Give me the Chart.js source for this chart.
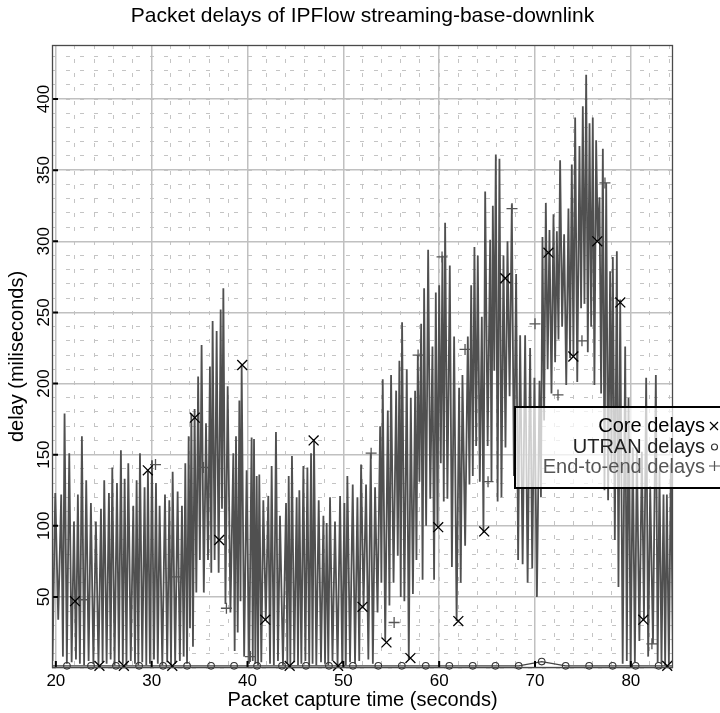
<!DOCTYPE html>
<html>
<head>
<meta charset="utf-8">
<script src="https://cdn.jsdelivr.net/npm/chart.js@4.4.0/dist/chart.umd.min.js"></script>
<style>
  html, body { margin: 0; padding: 0; background: #fff; }
  #chart { display: block; }
</style>
</head>
<body>
<canvas id="chart" width="720" height="713"></canvas>
<script>
// end-to-end delays (seconds / ms)
const e2eTime = [
  19.65, 19.94, 20.25, 20.56, 20.74, 20.91, 21.15, 21.40, 21.65, 21.89,
  22.10, 22.30, 22.51, 22.72, 22.95, 23.17, 23.42, 23.66, 23.92, 24.18,
  24.45, 24.71, 24.88, 25.05, 25.30, 25.54, 25.72, 25.89, 26.13, 26.38,
  26.58, 26.79, 26.99, 27.18, 27.37, 27.56, 27.82, 28.08, 28.26, 28.43,
  28.61, 28.78, 29.02, 29.26, 29.44, 29.61, 29.82, 30.03, 30.24, 30.45,
  30.64, 30.83, 31.11, 31.39, 31.62, 31.84, 32.02, 32.19, 32.45, 32.71,
  32.94, 33.16, 33.34, 33.51, 33.69, 33.86, 34.00, 34.14, 34.31, 34.48,
  34.66, 34.85, 35.03, 35.21, 35.44, 35.67, 35.88, 36.08, 36.22, 36.36,
  36.57, 36.78, 36.99, 37.20, 37.34, 37.48, 37.70, 37.93, 38.22, 38.52,
  38.66, 38.80, 38.98, 39.15, 39.27, 39.39, 39.65, 39.91, 40.17, 40.43,
  40.55, 40.68, 40.82, 40.96, 41.10, 41.23, 41.44, 41.65, 41.91, 42.17,
  42.35, 42.52, 42.75, 42.97, 43.18, 43.39, 43.70, 44.02, 44.16, 44.30,
  44.47, 44.64, 44.88, 45.13, 45.27, 45.41, 45.62, 45.83, 46.04, 46.25,
  46.44, 46.63, 46.79, 46.94, 47.18, 47.43, 47.67, 47.92, 48.09, 48.26,
  48.43, 48.61, 48.87, 49.13, 49.40, 49.66, 49.88, 50.11, 50.26, 50.42,
  50.70, 50.98, 51.22, 51.47, 51.66, 51.85, 52.11, 52.37, 52.61, 52.86,
  53.08, 53.31, 53.57, 53.84, 53.97, 54.11, 54.37, 54.64, 54.81, 54.98,
  55.24, 55.51, 55.68, 55.85, 55.99, 56.13, 56.37, 56.62, 56.83, 57.04,
  57.26, 57.49, 57.63, 57.77, 57.94, 58.12, 58.27, 58.43, 58.64, 58.85,
  59.07, 59.30, 59.47, 59.65, 59.82, 60.00, 60.17, 60.34, 60.48, 60.62,
  60.86, 61.11, 61.33, 61.56, 61.82, 62.08, 62.25, 62.43, 62.71, 62.99,
  63.16, 63.34, 63.51, 63.68, 63.86, 64.03, 64.24, 64.45, 64.62, 64.80,
  65.06, 65.32, 65.46, 65.60, 65.75, 65.91, 66.10, 66.29, 66.50, 66.71,
  66.92, 67.13, 67.35, 67.58, 67.80, 68.03, 68.24, 68.45, 68.71, 68.97,
  69.23, 69.49, 69.71, 69.94, 70.20, 70.47, 70.62, 70.78, 70.95, 71.13,
  71.32, 71.51, 71.72, 71.93, 72.10, 72.28, 72.45, 72.62, 72.83, 73.04,
  73.26, 73.49, 73.66, 73.84, 74.01, 74.19, 74.41, 74.64, 74.81, 74.99,
  75.16, 75.34, 75.51, 75.69, 75.86, 76.03, 76.20, 76.38, 76.55, 76.73,
  76.90, 77.08, 77.25, 77.43, 77.63, 77.84, 77.98, 78.12, 78.33, 78.54,
  78.71, 78.89, 79.15, 79.41, 79.58, 79.76, 79.98, 80.21, 80.42, 80.63,
  80.89, 81.15, 81.37, 81.60, 81.81, 82.02, 82.31, 82.61, 82.80, 82.99,
  83.20, 83.41, 83.58, 83.76, 83.97, 84.18, 84.40
];
const e2eDelay = [
  5, 123, 34, 122, 8, 179, 3, 151, 4, 103,
  6, 122, 3, 163, 2, 132, 5, 116, 3, 103,
  2, 112, 4, 132, 3, 123, 6, 141, 2, 130,
  4, 153, 3, 133, 2, 144, 5, 114, 3, 132,
  2, 151, 4, 127, 2, 139, 3, 146, 6, 130,
  3, 114, 2, 122, 4, 118, 2, 138, 3, 124,
  5, 114, 8, 144, 3, 163, 28, 179, 15, 182,
  53, 205, 76, 227, 53, 172, 76, 212, 67, 244,
  76, 237, 67, 252, 112, 267, 45, 198, 39, 151,
  12, 163, 25, 188, 47, 213, 8, 139, 3, 162,
  5, 161, 3, 135, 2, 136, 4, 118, 34, 121,
  3, 142, 2, 166, 5, 107, 2, 116, 3, 135,
  2, 149, 4, 120, 2, 125, 3, 142, 5, 141,
  2, 151, 3, 161, 2, 118, 4, 107, 3, 102,
  2, 120, 5, 103, 2, 121, 3, 116, 2, 135,
  4, 129, 3, 120, 5, 143, 43, 129, 6, 151,
  3, 127, 39, 170, 60, 203, 19, 181, 44, 206,
  60, 195, 79, 216, 50, 243, 47, 210, 6, 190,
  52, 195, 76, 220, 131, 242, 62, 267, 100, 294,
  119, 226, 62, 264, 100, 269, 144, 290, 117, 313,
  119, 283, 71, 233, 33, 197, 60, 206, 86, 233,
  129, 269, 135, 296, 156, 290, 131, 247, 95, 335,
  156, 301, 131, 325, 209, 361, 117, 358, 120, 290,
  155, 300, 191, 326, 135, 277, 76, 234, 73, 234,
  60, 225, 70, 204, 50, 202, 120, 303, 174, 327,
  210, 308, 193, 319, 215, 307, 231, 357, 240, 305,
  199, 323, 218, 354, 219, 387, 201, 367, 253, 395,
  256, 417, 222, 383, 240, 387, 199, 371, 300, 331,
  193, 365, 125, 341, 118, 279, 139, 289, 90, 293,
  57, 259, 3, 226, 5, 190, 2, 155, 4, 155,
  19, 152, 34, 204, 8, 128, 17, 206, 4, 139,
  3, 122, 2, 122, 3, 144, 5
];
// sparse markers (gnuplot point interval)
const e2eMarkTime  = [22.9, 30.4, 32.6, 35.4, 37.8, 40.3, 52.9, 55.3, 57.8, 60.3, 62.7, 65.1, 67.6, 70.0, 72.4, 74.9, 77.3, 82.2];
const e2eMarkDelay = [48, 143, 64, 141, 42, 8, 151, 32, 220, 289, 224, 131, 323, 242, 192, 230, 341, 17];

const coreMarkTime  = [22.0, 24.55, 27.1, 29.6, 32.15, 34.5, 37.05, 39.45, 41.85, 44.4, 46.9, 49.45, 52.0,
                       54.5, 57.0, 59.9, 62.0, 64.7, 66.9, 71.4, 74.0, 76.5, 78.9, 81.3, 83.8];
const coreMarkDelay = [47, 1.5, 1.5, 139, 1.5, 176, 90, 213, 34, 1.5, 160, 1.5, 43,
                       18, 7, 99, 33, 96, 274, 292, 219, 300, 257, 34, 1.5];

const utranTime  = [19.62, 21.16, 23.67, 26.27, 28.69, 31.19, 33.70, 36.20, 38.60, 41.00, 43.60, 46.10, 48.50, 51.00,
                    53.65, 56.10, 58.60, 61.06, 63.50, 65.87, 68.30, 70.70, 73.20, 75.65, 78.10, 80.50, 82.90, 84.40];
const utranDelay = [1.5, 1.5, 1.5, 1.5, 1.5, 1.5, 1.5, 1.5, 1.5, 1.5, 1.5, 1.5, 1.5, 1.5,
                    1.5, 1.5, 1.5, 1.5, 1.5, 1.5, 1.5, 4.5, 1.5, 1.5, 1.5, 1.5, 1.5, 1.5];

const legendItems = ['Core delays', 'UTRAN delays', 'End-to-end delays'];
const chartTitle = 'Packet delays of IPFlow streaming-base-downlink';

const FONT = '"Liberation Sans", Arial, Helvetica, sans-serif';

function pairs(xs, ys) {
  return xs.map((x, i) => ({x: x, y: ys[i]}));
}

const gnuplotFrame = {
  id: 'gnuplotFrame',
  beforeDraw(chart) {
    const ctx = chart.ctx;
    ctx.save();
    ctx.fillStyle = '#fff';
    ctx.fillRect(0, 0, chart.width, chart.height);
    ctx.restore();
  },
  afterDraw(chart) {
    const {ctx, chartArea: a, scales} = chart;
    ctx.save();

    // inward major tick marks
    ctx.strokeStyle = '#000';
    ctx.lineWidth = 2;
    ctx.beginPath();
    scales.y.ticks.forEach(t => {
      if (t.value === 0) return;
      const py = scales.y.getPixelForValue(t.value);
      ctx.moveTo(a.left, py);
      ctx.lineTo(a.left + 6, py);
    });
    scales.x.ticks.forEach(t => {
      const px = scales.x.getPixelForValue(t.value);
      ctx.moveTo(px, a.bottom);
      ctx.lineTo(px, a.bottom - 7);
    });
    ctx.stroke();

    // frame
    ctx.strokeStyle = '#4a4a4a';
    ctx.lineWidth = 1.3;
    ctx.strokeRect(a.left + 0.5, a.top + 0.5, a.width - 1, a.height - 1);

    // title
    ctx.fillStyle = '#000';
    ctx.font = '21px ' + FONT;
    ctx.textAlign = 'center';
    ctx.textBaseline = 'middle';
    ctx.fillText(chartTitle, (a.left + a.right) / 2, 16);

    // key box
    ctx.fillStyle = 'rgba(255,255,255,0.72)';
    ctx.fillRect(515, 407, 215, 81);
    ctx.strokeStyle = '#000';
    ctx.lineWidth = 2;
    ctx.strokeRect(515, 407, 215, 81);

    const rows = [426, 447, 467];
    const colors = ['#000', '#222', '#555'];
    ctx.font = '20px ' + FONT;
    ctx.textAlign = 'right';
    legendItems.forEach((txt, i) => {
      ctx.fillStyle = colors[i];
      ctx.fillText(txt, 705, rows[i]);
    });
    ctx.lineWidth = 1.2;
    // x
    ctx.strokeStyle = '#000';
    ctx.beginPath();
    ctx.moveTo(710, 422); ctx.lineTo(718, 430);
    ctx.moveTo(718, 422); ctx.lineTo(710, 430);
    ctx.stroke();
    // o
    ctx.strokeStyle = '#333';
    ctx.beginPath();
    ctx.arc(714.5, 447, 3, 0, Math.PI * 2);
    ctx.stroke();
    // +
    ctx.strokeStyle = '#555';
    ctx.beginPath();
    ctx.moveTo(709, 466); ctx.lineTo(720, 466);
    ctx.moveTo(714.5, 461); ctx.lineTo(714.5, 471);
    ctx.stroke();

    ctx.restore();
  }
};

const minorGrid = {
  color: '#c4c4c4',
  lineWidth: 1,
  drawTicks: false
};

new Chart(document.getElementById('chart'), {
  type: 'line',
  data: {
    datasets: [
      {
        label: 'Core delays',
        data: pairs(coreMarkTime, coreMarkDelay),
        showLine: false,
        pointStyle: 'crossRot',
        pointRadius: 7,
        pointBorderWidth: 1.3,
        pointBorderColor: '#000',
        pointBackgroundColor: 'rgba(0,0,0,0)',
        clip: false
      },
      {
        label: 'End-to-end delays marks',
        data: pairs(e2eMarkTime, e2eMarkDelay),
        showLine: false,
        pointStyle: 'cross',
        pointRadius: 5.5,
        pointBorderWidth: 1.3,
        pointBorderColor: '#555',
        pointBackgroundColor: 'rgba(0,0,0,0)',
        clip: false
      },
      {
        label: 'UTRAN delays',
        data: pairs(utranTime, utranDelay),
        borderColor: '#444',
        borderWidth: 1.4,
        tension: 0,
        pointStyle: 'circle',
        pointRadius: utranTime.map((t, i) => (i === 0 || i === utranTime.length - 1) ? 0 : 3.3),
        pointBorderWidth: 1.1,
        pointBorderColor: '#333',
        pointBackgroundColor: 'rgba(0,0,0,0)',
        clip: false
      },
      {
        label: 'End-to-end delays',
        data: pairs(e2eTime, e2eDelay),
        borderColor: '#505050',
        borderWidth: 1.8,
        tension: 0,
        pointRadius: 0
      }
    ]
  },
  options: {
    responsive: false,
    animation: false,
    layout: { padding: { top: 45, right: 47, left: 0, bottom: 0 } },
    plugins: {
      legend: { display: false },
      tooltip: { enabled: false },
      title: { display: false }
    },
    scales: {
      xMinor: {
        type: 'linear', position: 'bottom', min: 19.6, max: 84.4,
        ticks: { display: false, stepSize: 2, includeBounds: false, maxTicksLimit: 100 },
        grid: minorGrid,
        border: { display: false, dash: [4, 10] },
        afterFit(s) { s.height = 0; }
      },
      yMinor: {
        type: 'linear', position: 'left', min: 0, max: 438,
        ticks: { display: false, stepSize: 10, includeBounds: false, maxTicksLimit: 100 },
        grid: minorGrid,
        border: { display: false, dash: [4, 10] },
        afterFit(s) { s.width = 0; }
      },
      x: {
        type: 'linear', position: 'bottom', min: 19.6, max: 84.4,
        ticks: {
          stepSize: 10, includeBounds: false, padding: 3, color: '#000',
          font: { family: FONT, size: 17 }
        },
        grid: { color: '#c0c0c0', lineWidth: 1.5, drawTicks: false },
        border: { display: false },
        title: {
          display: true, text: 'Packet capture time (seconds)', color: '#000',
          font: { family: FONT, size: 20 }, padding: { top: 0, bottom: 1 }
        },
        afterFit(s) { s.height = 45; }
      },
      y: {
        type: 'linear', position: 'left', min: 0, max: 438,
        ticks: {
          stepSize: 50, includeBounds: false, padding: -6, color: '#000',
          minRotation: 90, maxRotation: 90, crossAlign: 'center',
          font: { family: FONT, size: 17 },
          callback: v => v === 0 ? '' : v
        },
        grid: { color: '#c0c0c0', lineWidth: 1.5, drawTicks: false },
        border: { display: false },
        title: {
          display: true, text: 'delay (miliseconds)', color: '#000',
          font: { family: FONT, size: 20 }, padding: { top: 5, bottom: 0 }
        },
        afterFit(s) { s.width = 52; }
      }
    }
  },
  plugins: [gnuplotFrame]
});
</script>
</body>
</html>
